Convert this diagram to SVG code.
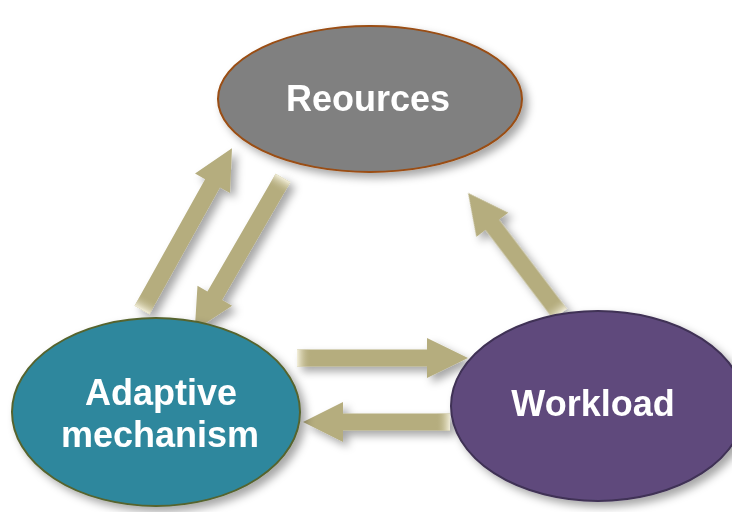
<svg xmlns="http://www.w3.org/2000/svg" width="732" height="512" viewBox="0 0 732 512">
<defs>
<filter id="sh" x="-30%" y="-30%" width="160%" height="160%">
<feDropShadow dx="5" dy="5" stdDeviation="4" flood-color="#000" flood-opacity="0.35"/>
</filter>
<linearGradient id="cap" x1="0" y1="0" x2="1" y2="0">
<stop offset="0" stop-color="#f4f0dc"/>
<stop offset="1" stop-color="#b5ad7e" stop-opacity="0"/>
</linearGradient>
<path id="arr" d="M0,-8.5 L-40,-8.5 L-40,-20 L0,0 L-40,20 L-40,8.5 L0,8.5 Z"/>
</defs>
<style>
.node text{font-family:"Liberation Sans",Arial,sans-serif;font-weight:bold;font-size:36px;fill:#fff;text-anchor:middle}
.arrow{fill:#b5ad7e}
</style>
<rect width="732" height="512" fill="#fff"/>
<g id="connectors" filter="url(#sh)">
<g transform="translate(142,310) rotate(-60.9)"><path class="arrow" d="M0,-8.5 L145,-8.5 L145,-20 L185,0 L145,20 L145,8.5 L0,8.5 Z"/><rect x="0" y="-8.5" width="14" height="17" fill="url(#cap)"/></g>
<g transform="translate(283,178) rotate(120.1)"><path class="arrow" d="M0,-8.5 L136,-8.5 L136,-20 L176,0 L136,20 L136,8.5 L0,8.5 Z"/><rect x="0" y="-8.5" width="14" height="17" fill="url(#cap)"/></g>
<g transform="translate(297,358)"><path class="arrow" d="M0,-8.5 L130,-8.5 L130,-20 L171,0 L130,20 L130,8.5 L0,8.5 Z"/><rect x="0" y="-8.5" width="14" height="17" fill="url(#cap)"/></g>
<g transform="translate(450,422) rotate(180)"><path class="arrow" d="M0,-8.5 L107,-8.5 L107,-20 L147,0 L107,20 L107,8.5 L0,8.5 Z"/><rect x="0" y="-8.5" width="14" height="17" fill="url(#cap)"/></g>
<g transform="translate(560,314) rotate(-127.2)"><path class="arrow" d="M0,-8.5 L112,-8.5 L112,-20 L152,0 L112,20 L112,8.5 L0,8.5 Z"/><rect x="0" y="-8.5" width="14" height="17" fill="url(#cap)"/></g>
</g>
<g id="resources" class="node">
<ellipse cx="370" cy="99" rx="152" ry="73" fill="#808080" stroke="#9a4d12" stroke-width="2" filter="url(#sh)"/>
<text x="368" y="111">Reources</text>
</g>
<g id="adaptive" class="node">
<ellipse cx="156" cy="412" rx="144" ry="94" fill="#2f879d" stroke="#56642e" stroke-width="2" filter="url(#sh)"/>
<text x="161" y="405">Adaptive</text>
<text x="160" y="447">mechanism</text>
</g>
<g id="workload" class="node">
<ellipse cx="598" cy="406" rx="147" ry="95" fill="#5e4a7c" stroke="#3f3055" stroke-width="2" filter="url(#sh)"/>
<text x="593" y="416">Workload</text>
</g>
</svg>
